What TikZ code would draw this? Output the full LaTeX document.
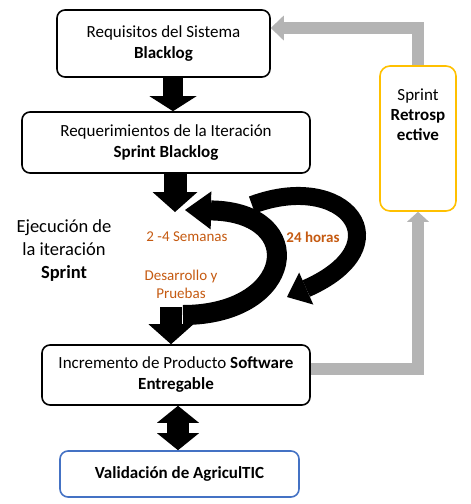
\documentclass[tikz,border=0pt]{standalone}
\usepackage{fontspec}
\setmainfont{Carlito}
\usetikzlibrary{arrows.meta, positioning}
\definecolor{retroline}{HTML}{FFC000}
\definecolor{validline}{HTML}{4472C4}
\definecolor{loopnote}{HTML}{C55A11}
\definecolor{feedback}{HTML}{B4B4B4}

\begin{document}
\begin{tikzpicture}[
    x=1pt, y=-1pt,
    box/.style={draw, rounded corners=8pt, line width=1.6pt, inner sep=0pt, align=center, font=\fontsize{17}{21}\selectfont},
    note/.style={align=center, text=loopnote, font=\fontsize{15}{18}\selectfont},
    blockarrow/.style n args={3}{draw=black, line width=#1, -{Triangle[length=#2, width=#3, line width=0pt]}},
    feedarrow/.style 2 args={draw=feedback, line width=12pt, line join=miter, -{Triangle[length=#1, width=#2, line width=0pt]}},
]
\useasboundingbox (0,0) rectangle (471,504);

% Backlog boxes
\node[box, minimum width=213pt, minimum height=67pt] (req) at (163.5,43.5) {Requisitos del Sistema\\\textbf{Blacklog}};
\node[box, minimum width=288pt, minimum height=61pt] (iter) at (166,142.5) {Requerimientos de la Iteración\\\textbf{Sprint Blacklog}};

% Increment and validation
\node[box, minimum width=268pt, minimum height=60pt] (incr) at (176,375) {Incremento de Producto \textbf{Software}\\\textbf{Entregable}};
\node[box, draw=validline, minimum width=239pt, minimum height=46pt] (val) at (179.5,474) {\textbf{Validación de AgriculTIC}};

% Retrospective
\node[box, draw=retroline, rounded corners=10pt, minimum width=76pt, minimum height=145pt] (retro) at (418,138.5) {};
\node[align=center, font=\fontsize{17}{20}\selectfont] (retrotxt) at (418,115) {Sprint\\\textbf{Retrosp}\\\textbf{ective}};

% Sprint loop labels
\node[align=center, font=\fontsize{18.5}{23}\selectfont] (exec) at (64,251) {Ejecución de\\la iteración\\\textbf{Sprint}};
\node[note] (weeks) at (187,237) {2 -4 Semanas};
\node[note] (devtest) at (181,284) {Desarrollo y\\Pruebas};
\node[note, font=\fontsize{15}{18}\selectfont\bfseries] (daily) at (313,237) {24 horas};

% Loop points
\coordinate (iterin) at (175,212);
\coordinate (sprintout) at (183,315);
\coordinate (sprintback) at (185,210);
\coordinate (dailyout) at (252,205);
\coordinate (dailyin) at (287,297);
\coordinate (loopdown) at (171,307);

% Feedback arrows
\draw[feedarrow={10pt}{22pt}] ([yshift=6pt]incr.east) -| (retro.south);
\draw[feedarrow={13pt}{25pt}] (retro.north) |- ([yshift=15.5pt]req.east);

% Main flow
\draw[blockarrow={20pt}{15pt}{47pt}] ([xshift=9.5pt]req.south) -- ([xshift=7pt]iter.north);
\draw[blockarrow={23pt}{20pt}{45pt}] (iterin |- iter.south) -- (iterin);
\draw[blockarrow={18pt}{21pt}{35pt}] (dailyout) .. controls (345,170) and (405,245) .. (dailyin);
\draw[blockarrow={20pt}{26pt}{38pt}] (sprintout) .. controls (295,315) and (310,212) .. (sprintback);
\draw[blockarrow={22pt}{20pt}{45pt}] (loopdown) -- (loopdown |- incr.north);
\draw[draw=black, line width=22pt, {Triangle[length=17pt, width=42pt, line width=0pt]}-{Triangle[length=17pt, width=42pt, line width=0pt]}] ([xshift=2pt]incr.south) -- ([xshift=-1.5pt]val.north);

\end{tikzpicture}
\end{document}
